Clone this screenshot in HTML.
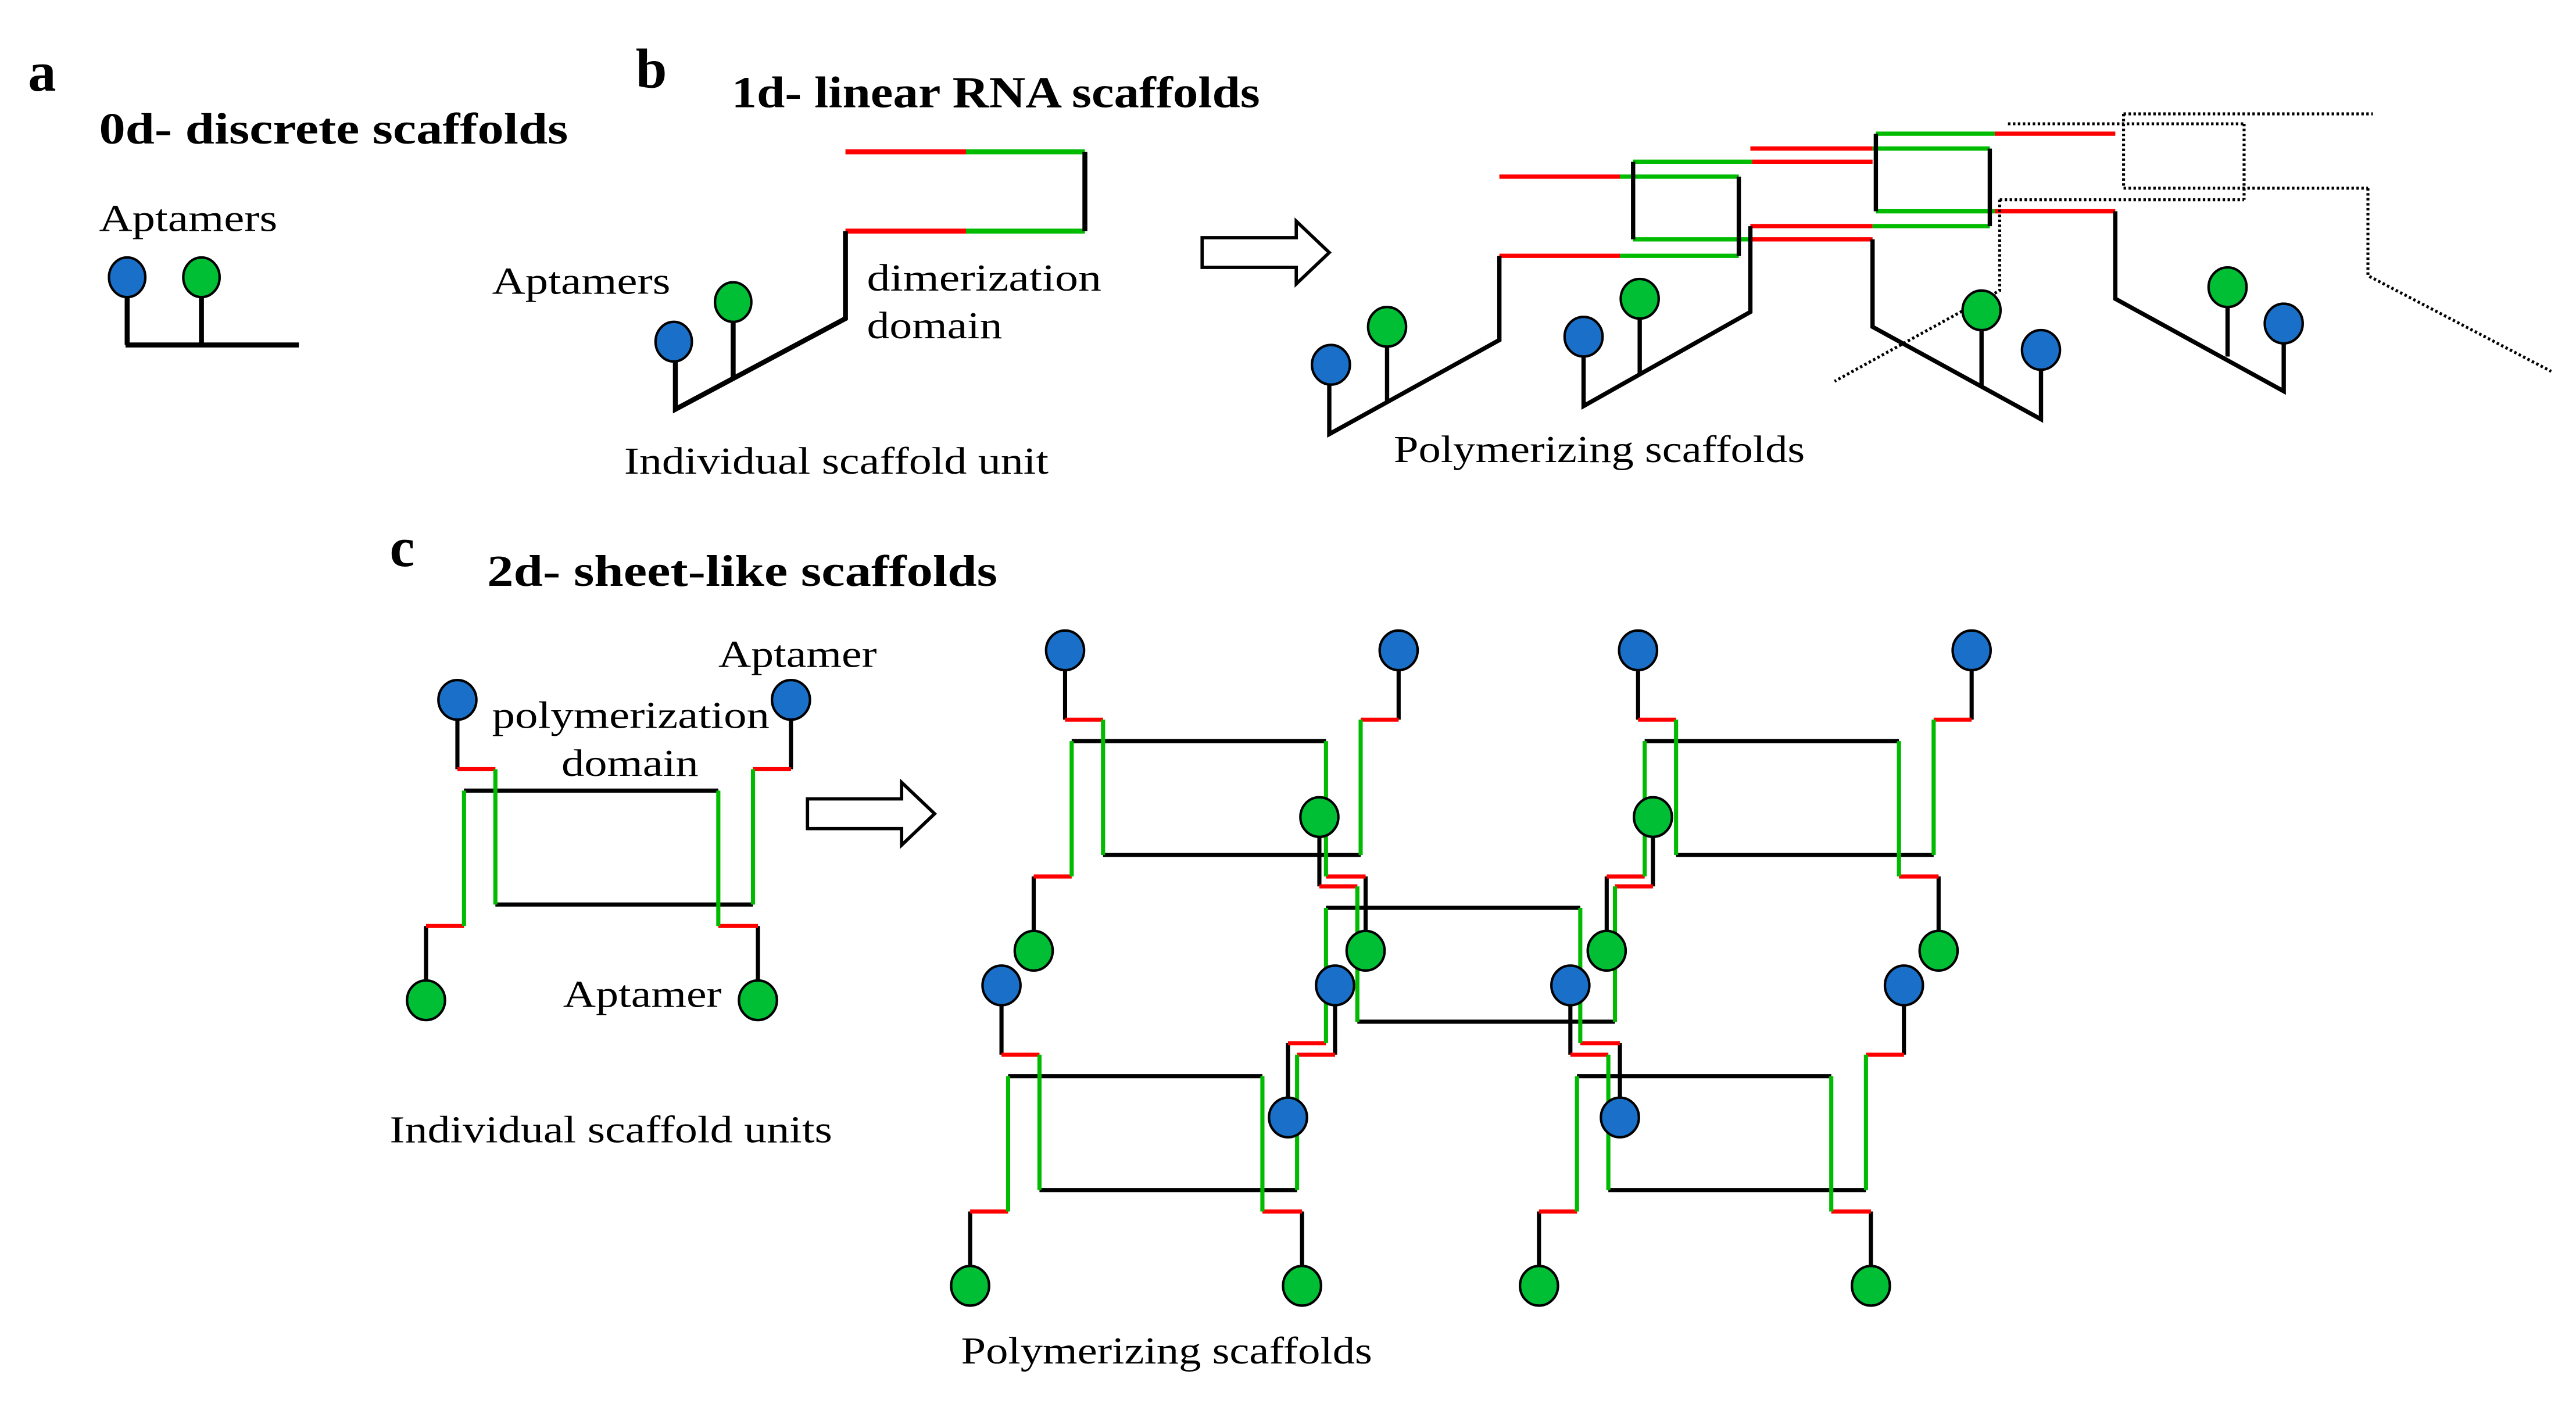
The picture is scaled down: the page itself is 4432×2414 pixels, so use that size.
<!DOCTYPE html>
<html><head><meta charset="utf-8"><style>
html,body{margin:0;padding:0;background:#fff;}
svg{display:block;}
text{font-family:"Liberation Serif",serif;fill:#000;}
.t{font-weight:bold;font-size:27px;}
.l{font-size:23px;}
</style></head><body>
<svg width="4432" height="2414" viewBox="0 0 1560 850" preserveAspectRatio="none" xmlns="http://www.w3.org/2000/svg">
<defs>
<g id="u" fill="none" stroke-width="2.5">
<path d="M19,11V42M221,42V11M0,137V182M201,137V182M23,55H177M42,124H198" stroke="#000"/>
<path d="M19,42H42M198,42H221M0,137H23M177,137H201" stroke="#f00"/>
<path d="M42,42V124M198,124V42M23,55V137M177,55V137" stroke="#0b0"/>
</g>
</defs>
<rect width="1560" height="850" fill="#fff"/>

<!-- panel a -->
<text x="17" y="55" style="font-weight:bold;font-size:34px">a</text>
<text x="60" y="87" class="t" textLength="284" lengthAdjust="spacingAndGlyphs">0d- discrete scaffolds</text>
<text x="60" y="140" class="l" textLength="108" lengthAdjust="spacingAndGlyphs">Aptamers</text>
<path d="M77,180V209M122,180V209M76,209H181" stroke="#000" stroke-width="3" fill="none"/>
<ellipse cx="77" cy="168" rx="11" ry="12" fill="#1a70c8" stroke="#000" stroke-width="1.5"/>
<ellipse cx="122" cy="168" rx="11" ry="12" fill="#00bf35" stroke="#000" stroke-width="1.5"/>

<!-- panel b -->
<text x="385" y="53" style="font-weight:bold;font-size:34px">b</text>
<text x="443" y="65" class="t" textLength="320" lengthAdjust="spacingAndGlyphs">1d- linear RNA scaffolds</text>
<g fill="none" stroke-width="3">
<path d="M512,92H585M512,140H585" stroke="#f00"/>
<path d="M585,92H657M585,140H657" stroke="#0b0"/>
<path d="M657,92V140M512,140V193L409,248V219M444,195V229" stroke="#000"/>
</g>
<ellipse cx="408" cy="207" rx="11" ry="12" fill="#1a70c8" stroke="#000" stroke-width="1.5"/>
<ellipse cx="444" cy="183" rx="11" ry="12" fill="#00bf35" stroke="#000" stroke-width="1.5"/>
<text x="298" y="178" class="l" textLength="108" lengthAdjust="spacingAndGlyphs">Aptamers</text>
<text x="525" y="176" class="l" textLength="142" lengthAdjust="spacingAndGlyphs">dimerization</text>
<text x="525" y="205" class="l" textLength="82" lengthAdjust="spacingAndGlyphs">domain</text>
<text x="378" y="287" class="l" textLength="257" lengthAdjust="spacingAndGlyphs">Individual scaffold unit</text>
<path d="M728,144H785V134L805,153L785,172V162H728Z" fill="#fff" stroke="#000" stroke-width="2"/>

<!-- polymerizing 1d -->
<g fill="none" stroke-width="2.6">
<path d="M1208,81H1281M1060,90H1134M1061,98H1134M908,107H981M1208,128H1281M1060,137H1134M1061,145H1134M908,155H981" stroke="#f00"/>
<path d="M1136,81H1208M1134,90H1205M989,98H1061M981,107H1053M1136,128H1208M1134,137H1205M989,145H1061M981,155H1053" stroke="#0b0"/>
<path d="M908,155V206L805,263V233M840,210V243M1053,107V155M989,98V145M1060,137V189L959,246V216M993,193V226M1205,90V137M1136,81V128M1134,145V198L1236,254V224M1200,200V234M1281,128V181L1383,237V208M1349,186V216" stroke="#000"/>
</g>
<g fill="none" stroke="#000" stroke-width="1.8" stroke-dasharray="1.5 1.5">
<path d="M1286,69H1437M1216,75H1359M1286,69V114M1359,75V121M1286,114H1434M1211,121H1359M1211,121V176L1111,231M1434,114V167L1545,225"/>
</g>
<g stroke="#000" stroke-width="1.5">
<ellipse cx="806" cy="221" rx="11.5" ry="12" fill="#1a70c8"/>
<ellipse cx="840" cy="198" rx="11.5" ry="12" fill="#00bf35"/>
<ellipse cx="959" cy="204" rx="11.5" ry="12" fill="#1a70c8"/>
<ellipse cx="993" cy="181" rx="11.5" ry="12" fill="#00bf35"/>
<ellipse cx="1200" cy="188" rx="11.5" ry="12" fill="#00bf35"/>
<ellipse cx="1236" cy="212" rx="11.5" ry="12" fill="#1a70c8"/>
<ellipse cx="1349" cy="174" rx="11.5" ry="12" fill="#00bf35"/>
<ellipse cx="1383" cy="196" rx="11.5" ry="12" fill="#1a70c8"/>
</g>
<text x="844" y="280" class="l" textLength="249" lengthAdjust="spacingAndGlyphs">Polymerizing scaffolds</text>

<!-- panel c -->
<text x="236" y="343" style="font-weight:bold;font-size:34px">c</text>
<text x="295" y="355" class="t" textLength="309" lengthAdjust="spacingAndGlyphs">2d- sheet-like scaffolds</text>
<use href="#u" transform="translate(258,424)"/>
<text x="435" y="404" class="l" textLength="96" lengthAdjust="spacingAndGlyphs">Aptamer</text>
<text x="298" y="441" class="l" textLength="168" lengthAdjust="spacingAndGlyphs">polymerization</text>
<text x="340" y="470" class="l" textLength="83" lengthAdjust="spacingAndGlyphs">domain</text>
<text x="341" y="610" class="l" textLength="96" lengthAdjust="spacingAndGlyphs">Aptamer</text>
<text x="236" y="692" class="l" textLength="268" lengthAdjust="spacingAndGlyphs">Individual scaffold units</text>
<path d="M489,484H546V474L566,493L546,512V502H489Z" fill="#fff" stroke="#000" stroke-width="2"/>

<use href="#u" transform="translate(626,394)"/>
<use href="#u" transform="translate(973,394)"/>
<use href="#u" transform="translate(780,495)"/>
<use href="#u" transform="translate(587.5,597)"/>
<use href="#u" transform="translate(932,597)"/>

<g stroke="#000" stroke-width="1.5">
<ellipse cx="277" cy="424" rx="11.5" ry="12" fill="#1a70c8"/>
<ellipse cx="479" cy="424" rx="11.5" ry="12" fill="#1a70c8"/>
<ellipse cx="258" cy="606" rx="11.5" ry="12" fill="#00bf35"/>
<ellipse cx="459" cy="606" rx="11.5" ry="12" fill="#00bf35"/>
<ellipse cx="645" cy="394" rx="11.5" ry="12" fill="#1a70c8"/>
<ellipse cx="847" cy="394" rx="11.5" ry="12" fill="#1a70c8"/>
<ellipse cx="626" cy="576" rx="11.5" ry="12" fill="#00bf35"/>
<ellipse cx="827" cy="576" rx="11.5" ry="12" fill="#00bf35"/>
<ellipse cx="992" cy="394" rx="11.5" ry="12" fill="#1a70c8"/>
<ellipse cx="1194" cy="394" rx="11.5" ry="12" fill="#1a70c8"/>
<ellipse cx="973" cy="576" rx="11.5" ry="12" fill="#00bf35"/>
<ellipse cx="1174" cy="576" rx="11.5" ry="12" fill="#00bf35"/>
<ellipse cx="799" cy="495" rx="11.5" ry="12" fill="#00bf35"/>
<ellipse cx="1001" cy="495" rx="11.5" ry="12" fill="#00bf35"/>
<ellipse cx="780" cy="677" rx="11.5" ry="12" fill="#1a70c8"/>
<ellipse cx="981" cy="677" rx="11.5" ry="12" fill="#1a70c8"/>
<ellipse cx="606.5" cy="597" rx="11.5" ry="12" fill="#1a70c8"/>
<ellipse cx="808.5" cy="597" rx="11.5" ry="12" fill="#1a70c8"/>
<ellipse cx="587.5" cy="779" rx="11.5" ry="12" fill="#00bf35"/>
<ellipse cx="788.5" cy="779" rx="11.5" ry="12" fill="#00bf35"/>
<ellipse cx="951" cy="597" rx="11.5" ry="12" fill="#1a70c8"/>
<ellipse cx="1153" cy="597" rx="11.5" ry="12" fill="#1a70c8"/>
<ellipse cx="932" cy="779" rx="11.5" ry="12" fill="#00bf35"/>
<ellipse cx="1133" cy="779" rx="11.5" ry="12" fill="#00bf35"/>
</g>
<text x="582" y="826" class="l" textLength="249" lengthAdjust="spacingAndGlyphs">Polymerizing scaffolds</text>
</svg>
</body></html>
